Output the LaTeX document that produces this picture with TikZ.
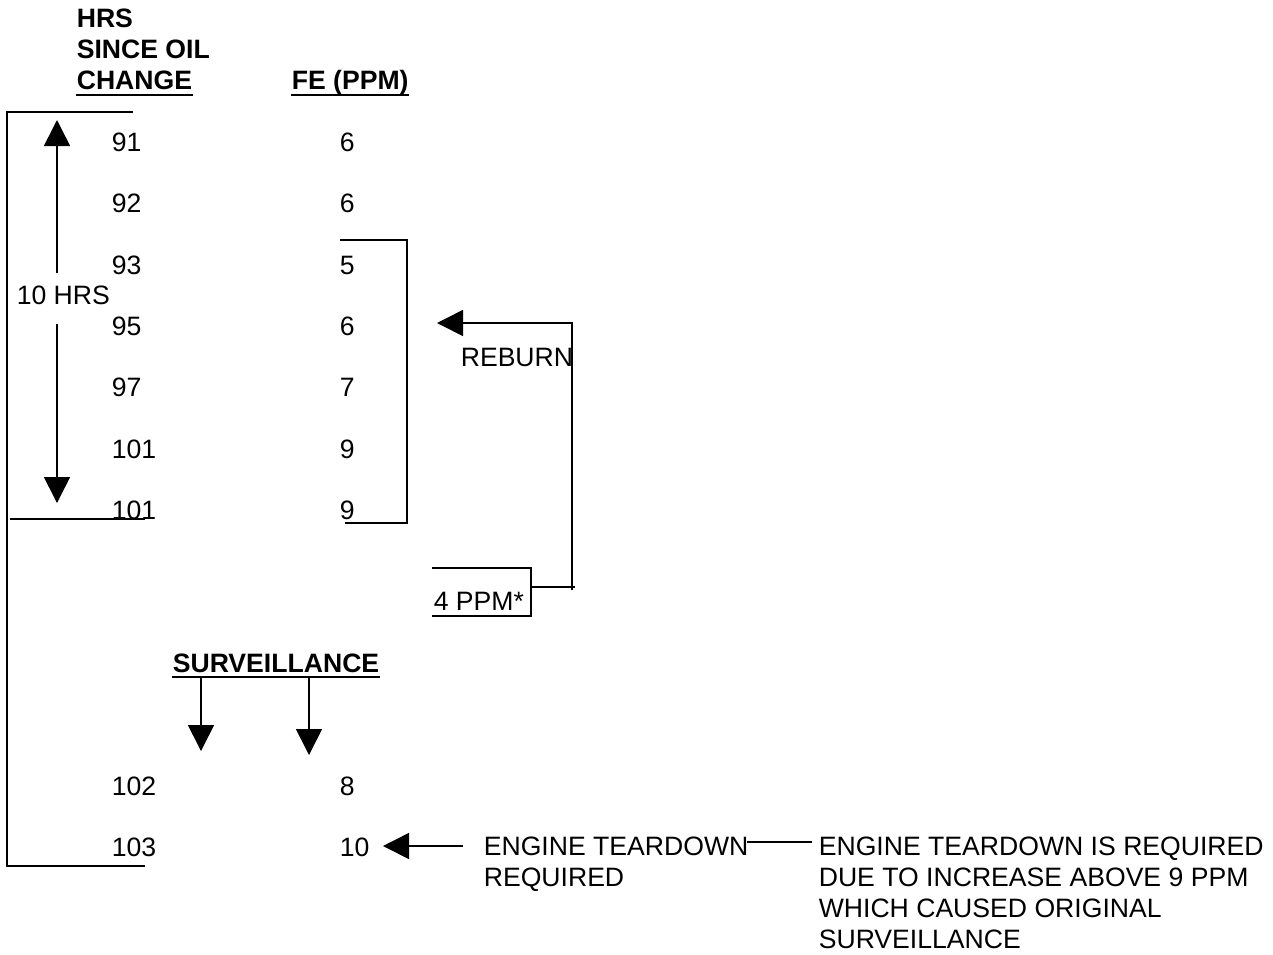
\documentclass[tikz,border=0pt]{standalone}
\usepackage{fontspec}
\setmainfont{Liberation Sans}
\usetikzlibrary{arrows.meta}
\begin{document}
\begin{tikzpicture}[x=1pt,y=-1pt,line width=1.6pt,
  txt/.style={inner sep=0pt,font=\fontsize{26.6}{31}\selectfont,anchor=base west},
  bld/.style={inner sep=0pt,font=\fontsize{26.6}{31}\selectfont\bfseries,anchor=base west},
  mtxt/.style={inner sep=0pt,font=\fontsize{26.6}{31}\selectfont,anchor=north west,align=left},
  arr/.style={-{Triangle[length=26pt,width=26pt]}},
  ul/.style={line width=1.8pt}]
\useasboundingbox (0,0) rectangle (1273,954);
% header
\node[bld] (h1) at (76,27.5) {HRS};
\node[bld] (h2) at (76,58.5) {SINCE OIL};
\node[bld] (h3) at (76,89.5) {CHANGE};
\node[bld] (h4) at (291,89.5) {FE (PPM)};
\draw[ul] ([yshift=-5.5pt]h3.base west) -- ([yshift=-5.5pt]h3.base east);
\draw[ul] ([yshift=-5.5pt]h4.base west) -- ([yshift=-5.5pt]h4.base east);
% rows
\foreach \n/\a/\b/\y in {1/91/6/151.5,2/92/6/212.5,3/93/5/274.5,4/95/6/335.5,5/97/7/396.5,6/101/9/458.5,7/101/9/519.5,8/102/8/795.5,9/103/10/856.5}{
  \node[txt] (a\n) at (111,\y) {\a};
  \node[txt] (b\n) at (339,\y) {\b};
}
% left bracket
\coordinate (lb1) at (133,112);
\coordinate (lb2) at (7,112);
\coordinate (lb3) at (7,866);
\coordinate (lb4) at (145,866);
\draw (lb1) -- (lb2) -- (lb3) -- (lb4);
\coordinate (mid1) at (10,519);
\coordinate (mid2) at (145,519);
\draw (mid1) -- (mid2);
% 10 HRS arrows
\node[txt] (ten) at (16,304) {10 HRS};
\coordinate (upA) at (57,273);
\coordinate (upB) at (57,120);
\coordinate (dnA) at (57,324);
\coordinate (dnB) at (57,503);
\draw[arr] (upA) -- (upB);
\draw[arr] (dnA) -- (dnB);
% right bracket
\coordinate (rb1) at (340,240);
\coordinate (rb2) at (407,240);
\coordinate (rb3) at (407,523);
\coordinate (rb4) at (345,523);
\draw (rb1) -- (rb2) -- (rb3) -- (rb4);
% reburn
\node[txt] (reburn) at (460,366.5) {REBURN};
\node[txt] (ppm) at (433,610) {4 PPM*};
\coordinate (bx1) at (432,568);
\coordinate (bx2) at (531,568);
\coordinate (bx3) at (531,616);
\coordinate (bx4) at (432,616);
\draw (bx1) -- (bx2) -- (bx3) -- (bx4);
\coordinate (rr0) at (572,590);
\coordinate (rr1) at (531,587);
\coordinate (rr2) at (575,587);
\coordinate (rr3) at (572,323);
\coordinate (rr4) at (437,323);
\draw (rr1) -- (rr2);
\draw[arr] (rr0) -- (rr3) -- (rr4);
% surveillance
\node[bld] (surv) at (172,672.5) {SURVEILLANCE};
\draw[ul] ([yshift=-4.5pt]surv.base west) -- ([yshift=-4.5pt]surv.base east);
\coordinate (s1a) at (201,677);
\coordinate (s1b) at (201,751);
\coordinate (s2a) at (309,677);
\coordinate (s2b) at (309,755);
\draw[arr] (s1a) -- (s1b);
\draw[arr] (s2a) -- (s2b);
% engine teardown
\node[mtxt] (et) at (483,836.5) {ENGINE TEARDOWN\\REQUIRED};
\node[mtxt] (expl) at (818,836.5) {ENGINE TEARDOWN IS REQUIRED\\DUE TO INCREASE ABOVE 9 PPM\\WHICH CAUSED ORIGINAL\\SURVEILLANCE};
\coordinate (ea) at (463,846);
\coordinate (eb) at (383,846);
\draw[arr] (ea) -- (eb);
\coordinate (ec) at (747,842);
\coordinate (ed) at (812,842);
\draw (ec) -- (ed);
\end{tikzpicture}
\end{document}
